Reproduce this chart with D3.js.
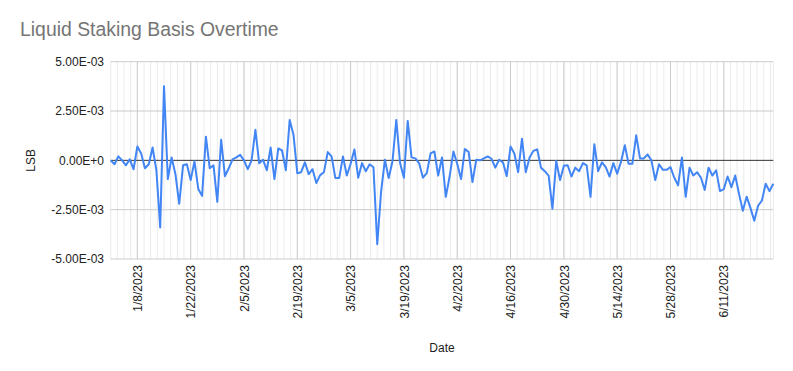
<!DOCTYPE html>
<html>
<head>
<meta charset="utf-8">
<script src="https://cdn.jsdelivr.net/npm/d3@7"></script>
<style>
  body { margin: 0; background: #fff; }
  text { font-family: Arial, "Liberation Sans", sans-serif; }
</style>
</head>
<body>
<script>
// daily LSB values, in units of 1e-3
const jan = [0, -0.2, 0.2, 0, -0.25, 0.05, -0.45, 0.7, 0.35, -0.4, -0.2, 0.65, -0.5, -3.4, 3.75, -0.95,
    0.15, -0.7, -2.2, -0.25, -0.2, -1.0, -0.05, -1.45, -1.8, 1.2, -0.4, -0.25, -2.1, 1.05, -0.8];
const feb = [-0.4, 0.05, 0.15, 0.28, 0.0, -0.45, 0, 1.55, -0.15, 0.03, -0.5, 0.65, -0.95, 0.6, 0.5, -0.5,
    2.05, 1.3, -0.65, -0.6, -0.1, -0.7, -0.45, -1.15, -0.75, -0.6, 0.42, 0.2];
const mar = [-0.9, -0.9, 0.2, -0.77, -0.17, 0.55, -0.88, -0.14, -0.55, -0.2, -0.35, -4.25, -1.6, 0.03, -0.9,
    -0.05, 2.05, -0.15, -0.88, 2.0, 0.15, 0.1, -0.15, -0.88, -0.65, 0.35, 0.45, -0.77, 0.15, -1.85, -0.82];
const apr = [0.45, -0.17, -0.95, 0.58, 0.42, -1.1, 0.03, 0, 0.1, 0.2, 0.08, -0.37, 0.03, -0.1, -0.8, 0.7,
    0.35, -0.6, 1.1, -0.6, 0.14, 0.48, 0.56, -0.37, -0.55, -0.77, -2.45, -0.03, -1.0, -0.27];
const may = [-0.25, -0.82, -0.37, -0.55, -0.14, -0.25, -1.85, 0.82, -0.55, -0.1, -0.34, -0.82, -0.14, -0.68,
    -0.08, 0.77, -0.17, -0.17, 1.27, 0.1, 0.1, 0.3, 0, -1.0, -0.2, -0.48, -0.48, -0.34, -0.88, -1.27, 0.14];
const jun = [-1.85, -0.37, -0.77, -0.6, -0.88, -1.5, -0.37, -0.77, -0.51, -1.56, -1.46, -0.82, -1.36, -0.77,
    -1.7, -2.55, -1.84, -2.41, -3.06, -2.3, -2.04, -1.19, -1.56, -1.19];

const startDate = "2023-01-01";
const xTickLabels = ["1/8/2023", "1/22/2023", "2/5/2023", "2/19/2023", "3/5/2023", "3/19/2023",
    "4/2/2023", "4/16/2023", "4/30/2023", "5/14/2023", "5/28/2023", "6/11/2023"];
const yTicks = [5e-3, 2.5e-3, 0, -2.5e-3, -5e-3];

const parseStart = d3.utcParse("%Y-%m-%d");
const parseTick = d3.utcParse("%-m/%-d/%Y");
const fmtTick = d3.utcFormat("%-m/%-d/%Y");

const values = [...jan, ...feb, ...mar, ...apr, ...may, ...jun];
const data = values.map((v, i) => ({
    date: d3.utcDay.offset(parseStart(startDate), i),
    lsb: v / 1000
}));

const width = 793;
const height = 371;
const margin = { top: 61.7, right: 19.7, bottom: 112, left: 110.7 };

const svg = d3.select("body")
    .append("svg")
    .attr("width", width)
    .attr("height", height);

svg.append("rect").attr("width", width).attr("height", height).attr("fill", "#fff");

const x = d3.scaleUtc()
    .domain(d3.extent(data, d => d.date))
    .range([margin.left, width - margin.right]);

const y = d3.scaleLinear()
    .domain([-5e-3, 5e-3])
    .range([height - margin.bottom, margin.top]);

const majorDates = xTickLabels.map(parseTick);

// minor gridlines: 7 between each pair of major ticks
const step = 14 / 8 * 864e5;
const minorDates = [];
for (let t = +x.domain()[0]; t <= +x.domain()[1] + 1; t += step) minorDates.push(new Date(t));

const grid = svg.append("g");
grid.selectAll(".minor")
    .data(minorDates)
    .enter()
    .append("line")
    .attr("x1", d => x(d)).attr("x2", d => x(d))
    .attr("y1", y(5e-3)).attr("y2", y(-5e-3))
    .attr("stroke", "#ebebeb")
    .attr("stroke-width", 1);

grid.append("line")
    .attr("x1", x.range()[1]).attr("x2", x.range()[1])
    .attr("y1", y(5e-3)).attr("y2", y(-5e-3))
    .attr("stroke", "#ebebeb");

grid.selectAll(".major")
    .data(majorDates)
    .enter()
    .append("line")
    .attr("x1", d => x(d)).attr("x2", d => x(d))
    .attr("y1", y(5e-3)).attr("y2", y(-5e-3))
    .attr("stroke", "#cccccc")
    .attr("stroke-width", 1);

grid.selectAll(".hgrid")
    .data(yTicks.filter(v => v !== 0))
    .enter()
    .append("line")
    .attr("x1", x.range()[0]).attr("x2", x.range()[1])
    .attr("y1", d => y(d)).attr("y2", d => y(d))
    .attr("stroke", "#cccccc");

function fmtSci(v) {
    if (v === 0) return "0.00E+0";
    const [m, e] = v.toExponential(2).split("e");
    const sign = e[0];
    const digits = e.slice(1).padStart(2, "0");
    return `${m}E${sign}${digits}`;
}

// y axis labels
svg.selectAll(".ylabel")
    .data(yTicks)
    .enter()
    .append("text")
    .attr("x", 104)
    .attr("y", d => y(d))
    .attr("dy", "0.35em")
    .attr("text-anchor", "end")
    .style("font-size", "12px")
    .attr("fill", "#222")
    .text(fmtSci);

// x axis labels
svg.selectAll(".xlabel")
    .data(majorDates)
    .enter()
    .append("text")
    .attr("transform", d => `translate(${x(d) + 0.5},${y(-5e-3) + 6}) rotate(-90)`)
    .attr("dy", "0.35em")
    .attr("text-anchor", "end")
    .style("font-size", "12px")
    .attr("fill", "#222")
    .text(fmtTick);

// zero baseline
svg.append("line")
    .attr("x1", x.range()[0]).attr("x2", x.range()[1])
    .attr("y1", y(0)).attr("y2", y(0))
    .attr("stroke", "#333")
    .attr("stroke-width", 1);

const line = d3.line()
    .x(d => x(d.date))
    .y(d => y(d.lsb));

svg.append("path")
    .datum(data)
    .attr("fill", "none")
    .attr("stroke", "#4285f4")
    .attr("stroke-width", 2)
    .attr("stroke-linejoin", "round")
    .attr("d", line);

svg.append("text")
    .attr("x", 20)
    .attr("y", 36)
    .style("font-size", "19.4px")
    .attr("fill", "#757575")
    .text("Liquid Staking Basis Overtime");

svg.append("text")
    .attr("transform", `translate(31,${(y.range()[0] + y.range()[1]) / 2}) rotate(-90)`)
    .attr("dy", "0.35em")
    .attr("text-anchor", "middle")
    .style("font-size", "12px")
    .attr("fill", "#222")
    .text("LSB");

svg.append("text")
    .attr("x", (x.range()[0] + x.range()[1]) / 2)
    .attr("y", 352)
    .attr("text-anchor", "middle")
    .style("font-size", "12px")
    .attr("fill", "#222")
    .text("Date");
</script>
</body>
</html>
